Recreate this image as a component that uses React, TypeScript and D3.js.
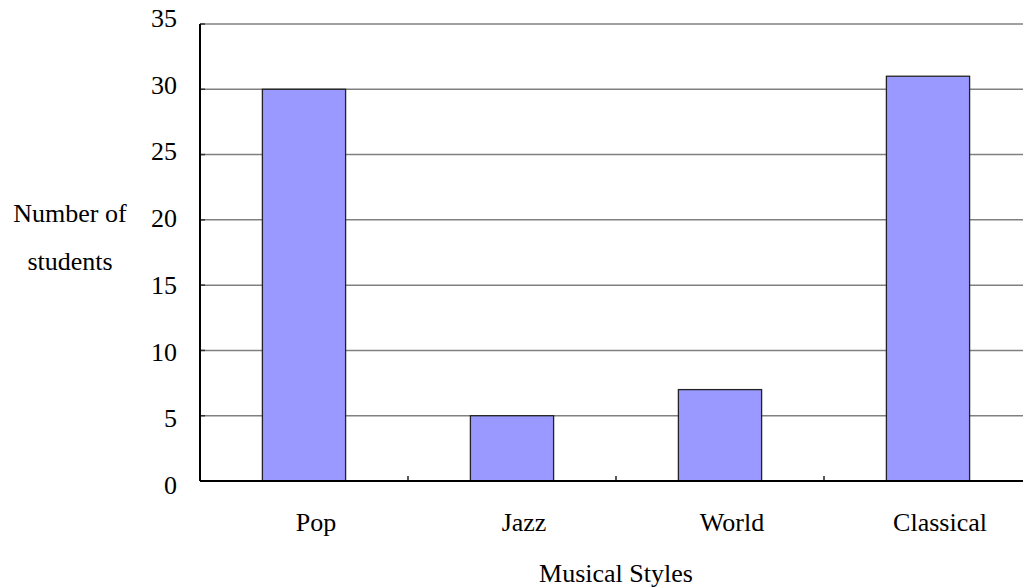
import { useEffect, useRef } from 'react'
import * as d3 from 'd3'

const styles = ['Pop', 'Jazz', 'World', 'Classical']
const students = [30, 5, 7, 31]
const yTicks = [0, 5, 10, 15, 20, 25, 30, 35]
const yTitle = ['Number of', 'students']
const xTitle = 'Musical Styles'

export default function App() {
  const svgRef = useRef<SVGSVGElement>(null)

  useEffect(() => {
    if (!svgRef.current) return
    const width = 1023
    const height = 588
    const margin = { top: 24, right: -9, bottom: 107, left: 200 }
    const font = '"Liberation Serif", "Times New Roman", serif'

    d3.select(svgRef.current).selectAll('*').remove()
    const svg = d3.select(svgRef.current)
      .attr('width', width)
      .attr('height', height)

    const innerW = width - margin.left - margin.right
    const innerH = height - margin.top - margin.bottom

    const x = d3.scaleBand<string>()
      .domain(styles)
      .range([margin.left, margin.left + innerW])
      .paddingInner(0.6)
      .paddingOuter(0.3)
    const y = d3.scaleLinear().domain([0, 35]).range([margin.top + innerH, margin.top])
    // tick labels sit a touch wider apart than the gridlines
    const yLabel = d3.scaleLinear().domain([0, 35]).range([485, 18])

    const step = x.step()

    // gridlines
    svg.append('g')
      .selectAll('line')
      .data(yTicks.filter(t => t > 0))
      .join('line')
      .attr('x1', margin.left)
      .attr('x2', margin.left + innerW)
      .attr('y1', d => y(d))
      .attr('y2', d => y(d))
      .attr('stroke', '#808080')
      .attr('stroke-width', 1.5)

    // y tick marks
    svg.append('g')
      .selectAll('line')
      .data(yTicks)
      .join('line')
      .attr('x1', margin.left)
      .attr('x2', margin.left + 5)
      .attr('y1', d => y(d))
      .attr('y2', d => y(d))
      .attr('stroke', '#333')
      .attr('stroke-width', 1.5)

    // bars
    svg.append('g')
      .selectAll('rect')
      .data(styles)
      .join('rect')
      .attr('x', d => x(d)!)
      .attr('width', x.bandwidth())
      .attr('y', (d, i) => y(students[i]))
      .attr('height', (d, i) => y(0) - y(students[i]))
      .attr('fill', '#9999FF')
      .attr('stroke', '#222')
      .attr('stroke-width', 1.3)

    // axes
    svg.append('line')
      .attr('x1', margin.left).attr('x2', margin.left)
      .attr('y1', y(35)).attr('y2', y(0))
      .attr('stroke', '#000').attr('stroke-width', 2)
    svg.append('line')
      .attr('x1', margin.left).attr('x2', margin.left + innerW)
      .attr('y1', y(0)).attr('y2', y(0))
      .attr('stroke', '#000').attr('stroke-width', 2)

    // x tick marks between categories
    svg.append('g')
      .selectAll('line')
      .data(styles.slice(1))
      .join('line')
      .attr('x1', d => x(d)! - step * 0.3 * 2 / 1.2 * 0.6)
      .attr('x2', d => x(d)! - step * 0.3 * 2 / 1.2 * 0.6)
      .attr('y1', y(0))
      .attr('y2', y(0) - 5)
      .attr('stroke', '#000')
      .attr('stroke-width', 1.3)

    // y tick labels
    svg.append('g')
      .selectAll('text')
      .data(yTicks)
      .join('text')
      .attr('x', 177)
      .attr('y', d => yLabel(d) + 9)
      .attr('text-anchor', 'end')
      .attr('font-family', font)
      .attr('font-size', 26)
      .attr('fill', '#000')
      .text(d => d)

    // category labels
    svg.append('g')
      .selectAll('text')
      .data(styles)
      .join('text')
      .attr('x', d => x(d)! + x.bandwidth() / 2 + 12)
      .attr('y', 531)
      .attr('text-anchor', 'middle')
      .attr('font-family', font)
      .attr('font-size', 26)
      .attr('fill', '#000')
      .text(d => d)

    // axis titles
    svg.append('text')
      .attr('x', margin.left + innerW / 2)
      .attr('y', 582)
      .attr('text-anchor', 'middle')
      .attr('font-family', font)
      .attr('font-size', 26)
      .attr('fill', '#000')
      .text(xTitle)

    svg.append('g')
      .selectAll('text')
      .data(yTitle)
      .join('text')
      .attr('x', 70)
      .attr('y', (d, i) => 222 + i * 48)
      .attr('text-anchor', 'middle')
      .attr('font-family', font)
      .attr('font-size', 26)
      .attr('fill', '#000')
      .text(d => d)
  }, [])

  return (
    <div style={{ position: 'absolute', left: 0, top: 0, background: '#fff' }}>
      <svg ref={svgRef} style={{ display: 'block' }}></svg>
    </div>
  )
}
